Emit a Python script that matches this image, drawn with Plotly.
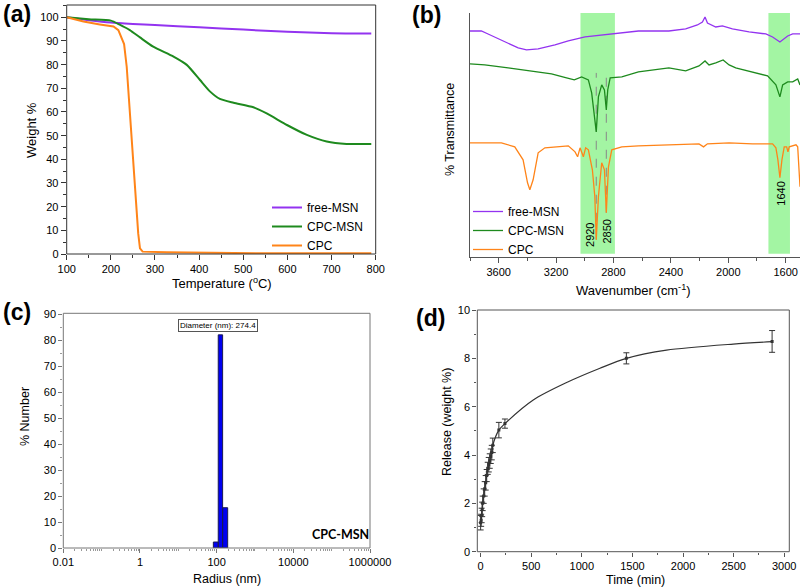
import plotly.graph_objects as go

# ---------------- (a) TGA ----------------
tga_temp_free = [100, 150, 200, 250, 300, 400, 500, 600, 700, 790]
tga_free = [100, 98.8, 97.8, 97.2, 96.7, 95.8, 94.8, 93.9, 93.3, 93.2]
tga_temp_cpcmsn = [100, 150, 200, 220, 243, 266, 296, 342, 372, 402, 425, 447, 478, 523, 553, 599, 644, 689, 734, 790]
tga_cpcmsn = [100, 99.2, 98.6, 96.9, 94.6, 91.5, 87.6, 83.4, 79.9, 73.5, 68.6, 65.5, 63.9, 62.0, 59.4, 54.5, 50.3, 47.5, 46.5, 46.5]
tga_temp_cpc = [100, 138, 175, 206, 217, 227, 230, 236, 245, 255, 262, 266, 272, 327, 553, 790]
tga_cpc = [100, 98.2, 97.0, 96.1, 94.6, 90.4, 88.7, 79.0, 53.8, 28.5, 8.7, 2.4, 1.0, 0.7, 0.3, 0.3]

# ---------------- (b) FTIR (arbitrary transmittance units) ----------------
ir_wn_free = [3800, 3721, 3674, 3581, 3464, 3406, 3325, 3208, 3115, 2998, 2882, 2765, 2626, 2414, 2297,
              2215, 2180, 2162, 2145, 2087, 2041, 1971, 1855, 1738, 1691, 1640, 1586, 1551, 1500]
ir_free = [226, 226, 223, 217, 209, 207, 208, 212, 216, 220, 222, 224, 226, 226, 228,
           232, 235, 240, 234, 230, 231, 228, 225, 223, 220, 215, 221, 223, 223]
ir_wn_cpcmsn = [3800, 3697, 3534, 3348, 3232, 3127, 3073, 3022, 2975, 2952, 2920, 2905, 2882, 2863, 2850,
                2840, 2823, 2742, 2626, 2414, 2297, 2204, 2162, 2134, 2087, 2036, 1994, 1948, 1831,
                1726, 1668, 1640, 1621, 1586, 1551, 1516, 1500]
ir_cpcmsn = [193, 192, 189, 185, 183, 179, 177, 180, 177, 164, 125, 160, 172, 167, 147,
             167, 179, 180, 185, 189, 186, 191, 196, 192, 194, 197, 192, 189, 185,
             181, 172, 160, 172, 175, 175, 178, 172]
ir_wn_cpc = [3800, 3581, 3488, 3430, 3399, 3383, 3360, 3325, 3278, 3115, 3068, 3050, 3033, 3010, 2994,
             2975, 2947, 2930, 2920, 2905, 2882, 2863, 2850, 2835, 2812, 2742, 2626, 2414, 2204,
             2172, 2145, 1994, 1831, 1691, 1668, 1654, 1640, 1626, 1610, 1593, 1584, 1575, 1528,
             1516, 1505, 1500]
ir_cpc = [114, 114, 110, 97, 74, 67, 77, 104, 109, 111, 105, 100, 109, 100, 109,
          107, 87, 60, 17, 60, 94, 87, 44, 90, 107, 110, 111, 112, 113,
          110, 113, 114, 113, 113, 109, 97, 79, 97, 110, 110, 105, 110, 112,
          110, 82, 70]
ir_bands = [(3030, 2790), (1720, 1570)]
ir_peaks = [2920, 2850, 1640]

# ---------------- (c) DLS ----------------
dls_bin_left = [82, 110, 143]
dls_bin_right = [110, 143, 194]
dls_number = [2.3, 82, 15.5]

# ---------------- (d) release ----------------
rel_time = [0, 5, 10, 15, 20, 30, 40, 50, 60, 70, 80, 90, 100, 110, 120, 180, 240, 1440, 2880]
rel_value = [1.2, 1.3, 1.5, 1.75, 2.0, 2.3, 2.6, 2.85, 3.15, 3.45, 3.6, 3.75, 3.95, 4.1, 4.4, 5.03, 5.3, 8.0, 8.7]
rel_err = [0.3, 0.25, 0.3, 0.3, 0.3, 0.3, 0.3, 0.3, 0.25, 0.25, 0.3, 0.3, 0.3, 0.3, 0.3, 0.32, 0.19, 0.23, 0.45]
curve_time = [520, 850, 1179, 1440, 1837, 2496, 2880]
curve_value = [6.28, 7.0, 7.59, 8.0, 8.34, 8.59, 8.69]

PURPLE = "#9333F0"
GREEN = "#1E8A1E"
ORANGE = "#FF8419"
FONT = "Liberation Sans, Arial, sans-serif"
W, H = 800, 588

def px_x(p):
    return p / W

def px_y(p):
    return 1 - p / H

fig = go.Figure()

# (a)
fig.add_trace(go.Scatter(x=tga_temp_free, y=tga_free, mode="lines", name="free-MSN",
                         line=dict(color=PURPLE, width=2, shape="spline", smoothing=0.6),
                         xaxis="x", yaxis="y", legend="legend"))
fig.add_trace(go.Scatter(x=tga_temp_cpcmsn, y=tga_cpcmsn, mode="lines", name="CPC-MSN",
                         line=dict(color=GREEN, width=2, shape="spline", smoothing=0.6),
                         xaxis="x", yaxis="y", legend="legend"))
fig.add_trace(go.Scatter(x=tga_temp_cpc, y=tga_cpc, mode="lines", name="CPC",
                         line=dict(color=ORANGE, width=2),
                         xaxis="x", yaxis="y", legend="legend"))

# (b)
fig.add_trace(go.Scatter(x=ir_wn_free, y=ir_free, mode="lines", name="free-MSN",
                         line=dict(color=PURPLE, width=1.3), xaxis="x2", yaxis="y2", legend="legend2"))
fig.add_trace(go.Scatter(x=ir_wn_cpcmsn, y=ir_cpcmsn, mode="lines", name="CPC-MSN",
                         line=dict(color=GREEN, width=1.3), xaxis="x2", yaxis="y2", legend="legend2"))
fig.add_trace(go.Scatter(x=ir_wn_cpc, y=ir_cpc, mode="lines", name="CPC",
                         line=dict(color=ORANGE, width=1.3), xaxis="x2", yaxis="y2", legend="legend2"))

# (c) histogram bars as closed polygons on the log axis
bx, by = [], []
for l, r, h in zip(dls_bin_left, dls_bin_right, dls_number):
    bx += [l, l, r, r, l, None]
    by += [0, h, h, 0, 0, None]
fig.add_trace(go.Scatter(x=bx, y=by, mode="lines", fill="toself", fillcolor="#0000F0",
                         line=dict(color="#1a1a50", width=1), showlegend=False,
                         xaxis="x3", yaxis="y3"))

# (d)
line_t = rel_time[:17] + curve_time
line_v = rel_value[:17] + curve_value
fig.add_trace(go.Scatter(x=line_t, y=line_v, mode="lines", showlegend=False,
                         line=dict(color="#333333", width=1.2, shape="spline", smoothing=0.8),
                         xaxis="x4", yaxis="y4"))
fig.add_trace(go.Scatter(x=rel_time, y=rel_value, mode="markers", showlegend=False,
                         marker=dict(symbol="square", size=3, color="#333333"),
                         error_y=dict(type="data", array=rel_err, visible=True, color="#333333",
                                      thickness=1, width=3),
                         xaxis="x4", yaxis="y4"))

shapes = []
for a, b in ir_bands:
    shapes.append(dict(type="rect", xref="x2", yref="y2 domain", x0=a, x1=b, y0=0.012, y1=1,
                       fillcolor="#A3F5A3", line=dict(width=0), layer="below"))
dash_tops = [184, 185]
dash_bottoms = [17, 44]
for wn, yt, yb in zip(ir_peaks[:2], dash_tops, dash_bottoms):
    shapes.append(dict(type="line", xref="x2", yref="y2", x0=wn, x1=wn, y0=yb, y1=yt,
                       line=dict(color="#888888", width=1, dash="dash"), layer="below"))

# frames
shapes.append(dict(type="rect", xref="x domain", yref="y domain", x0=0, x1=1, y0=0, y1=1,
                   line=dict(color="#333333", width=1)))
shapes.append(dict(type="rect", xref="x3 domain", yref="y3 domain", x0=0, x1=1, y0=0, y1=1,
                   line=dict(color="#777777", width=1)))
shapes.append(dict(type="rect", xref="x4 domain", yref="y4 domain", x0=0, x1=1, y0=0, y1=1,
                   line=dict(color="#555555", width=1)))

ann = []
def label(text, x, y, size=13, angle=0, bold=False, fam=FONT, **kw):
    if bold:
        text = "<b>" + text + "</b>"
    ann.append(dict(text=text, x=px_x(x), y=px_y(y), xref="paper", yref="paper",
                    showarrow=False, textangle=angle, font=dict(size=size, family=fam, color="black"),
                    xanchor="center", yanchor="middle", **kw))

label("(a)", 17, 14, size=23, bold=True)
label("(b)", 427, 15, size=23, bold=True)
label("(c)", 17, 312, size=23, bold=True)
label("(d)", 431, 318, size=23, bold=True)
label("Temperature (<sup>o</sup>C)", 222, 283, size=13)
label("Weight %", 31, 130, size=13, angle=-90)
label("Wavenumber (cm<sup>-1</sup>)", 633, 290, size=13)
label("% Transmittance", 450, 130, size=12.5, angle=-90)
label("Radius (nm)", 227, 579, size=12.5)
label("% Number", 25, 417, size=12.5, angle=-90)
label("Time (min)", 635, 580, size=12.5)
label("Release (weight %)", 447, 422, size=12.5, angle=-90)
label("CPC-MSN", 340, 534, size=12.5, bold=True, fam="Lato, Open Sans, sans-serif")

# peak labels in (b)
peak_label_y = [22, 25.5, 63]
peak_shift = [-7, 1, 1]
for wn, yv, sh in zip(ir_peaks, peak_label_y, peak_shift):
    ann.append(dict(text=str(wn), x=wn, y=yv, xref="x2", yref="y2", showarrow=False,
                    textangle=-90, xshift=sh, font=dict(size=11, family=FONT, color="black")))

# (c) diameter annotation box
ann.append(dict(text="Diameter (nm): 274.4", x=2.04, y=85.5, xref="x3", yref="y3", showarrow=False,
                font=dict(size=8, family=FONT, color="black"), bordercolor="#555555", borderwidth=1,
                borderpad=1, bgcolor="white"))

tickfont = dict(size=11, family=FONT, color="black")
common = dict(showgrid=False, zeroline=False, automargin=False)

fig.update_layout(
    width=W, height=H, autosize=False, margin=dict(l=0, r=0, t=0, b=0, pad=0),
    paper_bgcolor="white", plot_bgcolor="white",
    font=dict(family=FONT, color="black"),
    shapes=shapes, annotations=ann,
    xaxis=dict(domain=[px_x(66.7), px_x(375.7)], range=[100, 800], dtick=100, anchor="y",
               ticks="outside", ticklen=5, tickcolor="#333",
               minor=dict(dtick=50, ticks="outside", ticklen=3, tickcolor="#333"),
               tickfont=tickfont, showline=False, **common),
    yaxis=dict(domain=[px_y(254), px_y(5)], range=[0, 105.2], dtick=10, anchor="x",
               ticks="outside", ticklen=5, tickcolor="#333",
               minor=dict(dtick=5, ticks="outside", ticklen=3, tickcolor="#333"),
               tickfont=tickfont, showline=False, **common),
    xaxis2=dict(domain=[px_x(470), 1.0], range=[3800, 1500], dtick=400, tick0=1600, anchor="y2",
                ticks="outside", ticklen=5, tickcolor="#555",
                minor=dict(dtick=200, ticks="outside", ticklen=3, tickcolor="#555"),
                tickfont=tickfont, showline=True, linecolor="#555", linewidth=1, **common),
    yaxis2=dict(domain=[px_y(256.7), px_y(13)], range=[0, 244], anchor="x2",
                showticklabels=False, ticks="",
                showline=True, linecolor="#555", linewidth=1, **common),
    xaxis3=dict(domain=[px_x(63.3), px_x(370)], type="log", range=[-2, 6], anchor="y3",
                tickvals=[0.01, 1, 100, 10000, 1000000],
                ticktext=["0.01", "1", "100", "10000", "1000000"],
                ticks="outside", ticklen=4, tickcolor="#777",
                minor=dict(tickvals=[m * 10 ** e for e in range(-2, 6) for m in range(2, 11)],
                           ticks="outside", ticklen=2, tickcolor="#999"),
                tickfont=tickfont, showline=False, **common),
    yaxis3=dict(domain=[px_y(548), px_y(313.3)], range=[0, 90.3], dtick=10, anchor="x3",
                ticks="outside", ticklen=4, tickcolor="#777",
                minor=dict(dtick=5, ticks="outside", ticklen=2, tickcolor="#999"),
                tickfont=tickfont, showline=False, **common),
    xaxis4=dict(domain=[px_x(477.3), px_x(789.3)], range=[-33, 3050], dtick=500, anchor="y4",
                ticks="outside", ticklen=4, tickcolor="#555",
                minor=dict(dtick=250, ticks="outside", ticklen=2, tickcolor="#555"),
                tickfont=tickfont, showline=False, **common),
    yaxis4=dict(domain=[px_y(551.7), px_y(310)], range=[0, 10], dtick=2, anchor="x4",
                ticks="outside", ticklen=4, tickcolor="#555",
                minor=dict(dtick=1, ticks="outside", ticklen=2, tickcolor="#555"),
                tickfont=tickfont, showline=False, **common),
    legend=dict(x=px_x(267), y=px_y(193), xanchor="left", yanchor="top",
                bgcolor="rgba(0,0,0,0)", font=dict(size=12, family=FONT), tracegroupgap=0),
    legend2=dict(x=px_x(468), y=px_y(197), xanchor="left", yanchor="top",
                 bgcolor="rgba(0,0,0,0)", font=dict(size=12, family=FONT), tracegroupgap=0),
)

fig.write_html("out.html",
               config={"displayModeBar": False, "responsive": False},
               post_script="document.body.style.margin='0';document.body.style.overflow='hidden';")
